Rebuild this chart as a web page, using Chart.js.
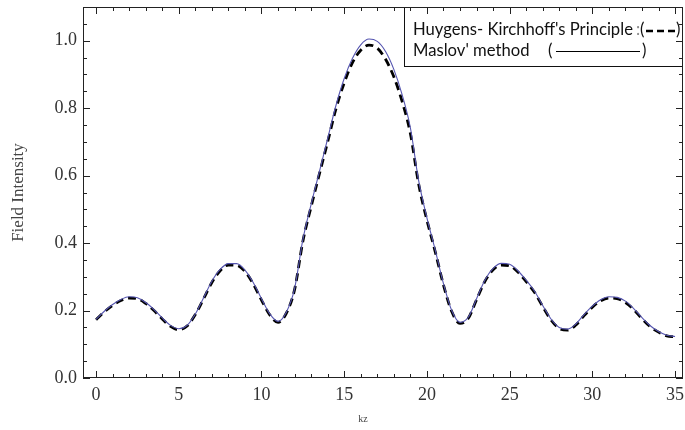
<!DOCTYPE html>
<html><head><meta charset="utf-8">
<script src="https://cdn.jsdelivr.net/npm/chart.js@4.4.1/dist/chart.umd.min.js"></script>
<style>html,body{margin:0;padding:0;background:#fff}#wrap{width:685px;height:430px;position:relative}</style>
</head><body><div id="wrap"><canvas id="c" width="685" height="430"></canvas></div>
<script>
const kz = [0,0.5,1,1.5,2,2.5,3,3.5,4,4.5,5,5.5,6,6.5,7,7.5,8,8.5,9,9.5,10,10.5,11,11.5,12,12.5,13,13.5,14,14.5,15,15.5,16,16.5,17,17.5,18,18.5,19,19.5,20,20.5,21,21.5,22,22.5,23,23.5,24,24.5,25,25.5,26,26.5,27,27.5,28,28.5,29,29.5,30,30.5,31,31.5,32,32.5,33,33.5,34,34.5,35];
const maslov = [0.174,0.198,0.218,0.233,0.241,0.238,0.224,0.203,0.178,0.156,0.146,0.156,0.190,0.238,0.287,0.322,0.339,0.339,0.320,0.283,0.235,0.190,0.168,0.195,0.265,0.410,0.515,0.612,0.710,0.808,0.888,0.948,0.988,1.005,0.998,0.968,0.915,0.840,0.742,0.585,0.475,0.380,0.280,0.200,0.165,0.180,0.235,0.290,0.325,0.340,0.337,0.318,0.290,0.258,0.215,0.175,0.150,0.145,0.160,0.188,0.213,0.232,0.241,0.239,0.228,0.206,0.179,0.155,0.138,0.127,0.123];
const huygens = [0.173,0.196,0.215,0.230,0.237,0.235,0.221,0.200,0.175,0.153,0.143,0.154,0.188,0.235,0.283,0.318,0.335,0.334,0.316,0.279,0.231,0.187,0.165,0.192,0.262,0.405,0.508,0.605,0.700,0.798,0.875,0.935,0.972,0.987,0.978,0.945,0.893,0.820,0.725,0.575,0.468,0.375,0.276,0.197,0.162,0.177,0.232,0.286,0.321,0.335,0.333,0.314,0.286,0.254,0.212,0.172,0.147,0.142,0.157,0.185,0.210,0.229,0.237,0.235,0.224,0.203,0.176,0.152,0.136,0.125,0.122];
const xTicks = [0,5,10,15,20,25,30,35];
const yTicks = [0,0.2,0.4,0.6,0.8,1.0];
const xMinorTicks = [0,1,2,3,4,5,6,7,8,9,10,11,12,13,14,15,16,17,18,19,20,21,22,23,24,25,26,27,28,29,30,31,32,33,34,35];
const yMinorTicks = [0,0.05,0.1,0.15,0.2,0.25,0.3,0.35,0.4,0.45,0.5,0.55,0.6,0.65,0.7,0.75,0.8,0.85,0.9,0.95,1.0,1.05];
const legendLabels = ["Huygens- Kirchhoff's Principle", "Maslov' method"];
const xTitle = "kz";
const yTitle = "Field Intensity";

const serif = "'Liberation Serif','DejaVu Serif',serif";

const framePlugin = {
  id: 'frame',
  afterDatasetsDraw(chart) {
    const {ctx, chartArea: {right, top}} = chart;
    const bx = right - 279, by = top, bw = 279, bh = 59;
    ctx.save();
    ctx.fillStyle = '#fff';
    ctx.fillRect(bx, by, bw, bh);
    ctx.strokeStyle = '#111';
    ctx.lineWidth = 1;
    ctx.strokeRect(bx + 0.5, by + 0.5, bw - 1, bh);
    let fs = 14;
    ctx.font = fs + "px Lato, 'Open Sans', sans-serif";
    const w = ctx.measureText(legendLabels[0]).width;
    fs = fs * 220 / w;
    ctx.font = fs.toFixed(2) + "px Lato, 'Open Sans', sans-serif";
    ctx.fillStyle = '#111';
    ctx.textBaseline = 'middle';
    ctx.textAlign = 'left';
    const tx = bx + 9;
    const y1 = by + 23, y2 = by + 44;
    ctx.fillText(legendLabels[0], tx, y1);
    ctx.fillStyle = '#888';
    ctx.fillText(':', tx + 223, y1);
    ctx.fillStyle = '#111';
    ctx.fillText('(', tx + 227, y1);
    ctx.fillText(')', tx + 263, y1);
    ctx.fillText(legendLabels[1], tx, y2);
    ctx.fillText('(', tx + 135, y2);
    ctx.fillText(')', tx + 229, y2);
    ctx.strokeStyle = '#000';
    ctx.lineWidth = 2.5;
    ctx.setLineDash([7, 4]);
    ctx.beginPath(); ctx.moveTo(tx + 233, y1 + 1); ctx.lineTo(tx + 263, y1 + 1); ctx.stroke();
    ctx.setLineDash([]);
    ctx.lineWidth = 1;
    ctx.beginPath(); ctx.moveTo(tx + 143, y2 + 0.5); ctx.lineTo(tx + 227, y2 + 0.5); ctx.stroke();
    ctx.restore();
  },
  afterDraw(chart) {
    const {ctx, chartArea: {left, right, top, bottom}, scales: {x, y}} = chart;
    ctx.save();
    ctx.strokeStyle = '#222';
    ctx.lineWidth = 1;
    ctx.strokeRect(left + 0.5, top + 0.5, right - left - 1, bottom - top - 1);
    ctx.beginPath();
    xMinorTicks.forEach(v => {
      const p = Math.round(x.getPixelForValue(v)) + 0.5;
      const len = xTicks.includes(v) ? 7 : 4;
      ctx.moveTo(p, bottom); ctx.lineTo(p, bottom - len);
      ctx.moveTo(p, top); ctx.lineTo(p, top + len);
    });
    yMinorTicks.forEach(v => {
      const p = Math.round(y.getPixelForValue(v)) + 0.5;
      const len = yTicks.some(t => Math.abs(t - v) < 1e-9) ? 7 : 4;
      ctx.moveTo(left, p); ctx.lineTo(left + len, p);
      ctx.moveTo(right, p); ctx.lineTo(right - len, p);
    });
    ctx.stroke();
    // x-axis title (slightly left of centre, as in the original)
    ctx.font = "10px " + serif;
    ctx.fillStyle = '#444';
    ctx.textAlign = 'center';
    ctx.textBaseline = 'middle';
    ctx.fillText(xTitle, (left + right) / 2 - 20, chart.height - 11);
    ctx.restore();
  }
};

new Chart(document.getElementById('c'), {
  type: 'line',
  data: {
    datasets: [
      {
        label: legendLabels[1],
        data: kz.map((v, i) => ({x: v, y: maslov[i]})),
        borderColor: '#5555b0',
        borderWidth: 1.1,
        pointRadius: 0,
        cubicInterpolationMode: 'monotone',
        fill: false
      },
      {
        label: legendLabels[0],
        data: kz.map((v, i) => ({x: v, y: huygens[i]})),
        borderColor: '#000',
        borderWidth: 2.8,
        borderDash: [8, 5],
        pointRadius: 0,
        cubicInterpolationMode: 'monotone',
        fill: false
      }
    ]
  },
  options: {
    responsive: false,
    animation: false,
    devicePixelRatio: 1,
    layout: {padding: {left: 0, top: 7, right: 2, bottom: 0}},
    plugins: {legend: {display: false}, tooltip: {enabled: false}},
    scales: {
      x: {
        type: 'linear',
        min: -0.79, max: 35.48,
        afterBuildTicks: s => { s.ticks = xTicks.map(v => ({value: v})); },
        afterFit: s => { s.height = 52; s.paddingLeft = 0; s.paddingRight = 0; },
        grid: {display: false, drawTicks: false},
        border: {display: false},
        ticks: {font: {family: serif, size: 18}, color: '#333', padding: 6, maxRotation: 0, autoSkip: false},
        title: {display: false}
      },
      y: {
        type: 'linear',
        min: 0, max: 1.1,
        afterBuildTicks: s => { s.ticks = yTicks.map(v => ({value: v})); },
        afterFit: s => { s.width = 83; s.paddingTop = 0; s.paddingBottom = 0; },
        grid: {display: false, drawTicks: false},
        border: {display: false},
        ticks: {font: {family: serif, size: 18}, color: '#333', padding: 6, callback: v => v.toFixed(1)},
        title: {display: true, text: yTitle, font: {family: serif, size: 17}, color: '#444', padding: {top: 8, bottom: 0}}
      }
    }
  },
  plugins: [framePlugin]
});
</script>
</body></html>
